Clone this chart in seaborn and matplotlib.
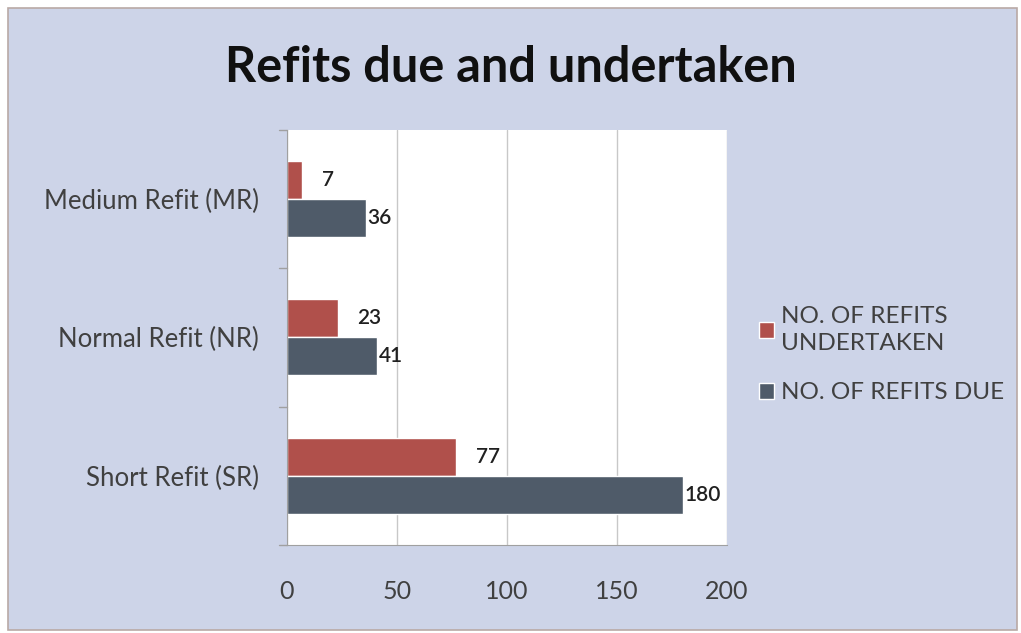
import pandas as pd
import matplotlib.pyplot as plt
import seaborn as sns
from matplotlib.patches import Rectangle

# datos
categorias = ['Medium Refit (MR)', 'Normal Refit (NR)', 'Short Refit (SR)']
realizados = [7, 23, 77]
debidos = [36, 41, 180]
series = ['NO. OF REFITS\nUNDERTAKEN', 'NO. OF REFITS DUE']
colores = ['#b0504b', '#4f5b69']
ticks_x = [0, 50, 100, 150, 200]

df = pd.DataFrame({
    'categoria': categorias * 2,
    'valor': realizados + debidos,
    'serie': [series[0]] * 3 + [series[1]] * 3,
})

sns.set_style('white')
plt.rcParams['font.family'] = ['Lato', 'DejaVu Sans']

fondo = '#cdd4e8'
fig = plt.figure(figsize=(10.21, 6.33), dpi=100)
fig.patch.set_facecolor('white')
fig.patches.append(Rectangle((0.008, 0.005), 0.988, 0.982, transform=fig.transFigure,
                             facecolor=fondo, edgecolor='#b9a9a5', linewidth=1.2, zorder=-1))

ax = fig.add_axes([0.281, 0.139, 0.431, 0.656])
sns.barplot(data=df, y='categoria', x='valor', hue='serie', palette=colores,
            orient='h', width=0.55, saturation=1, ax=ax)

# etiquetas de valor
ax.bar_label(ax.containers[0], padding=14, fontsize=15, color='#202020', fontweight='semibold')
ax.bar_label(ax.containers[1], padding=1, fontsize=15, color='#202020', fontweight='semibold')

ax.set_xlim(0, 200)
ax.set_ylim(2.5, -0.5)
ax.set_xticks(ticks_x)
ax.set_xticklabels([str(t) for t in ticks_x], fontsize=18, color='#404040')
ax.tick_params(axis='x', length=5, color='#a0a0a0', pad=20)
ax.set_yticks([0, 1, 2])
ax.set_yticklabels(categorias, fontsize=18.5, color='#404040')
ax.tick_params(axis='y', length=0, pad=20)
# marcas entre categorias estilo Excel
for yb in [-0.5, 0.5, 1.5, 2.5]:
    ax.plot([-3.5, 0], [yb, yb], color='#a0a0a0', lw=1, clip_on=False)
ax.xaxis.grid(True, color='#c8c8c8', lw=1)
ax.set_axisbelow(True)
for s in ['top', 'right']:
    ax.spines[s].set_visible(False)
ax.spines['left'].set_color('#a0a0a0')
ax.spines['bottom'].set_color('#a0a0a0')
ax.set_xlabel('')
ax.set_ylabel('')

handles, labels = ax.get_legend_handles_labels()
ax.legend_.remove()
leg = fig.legend(handles, labels, loc='center left', bbox_to_anchor=(0.722, 0.44),
                 frameon=False, fontsize=17.5, handlelength=0.6, handleheight=0.6,
                 handletextpad=0.3, labelspacing=1.15, labelcolor='#404040')
for t in leg.get_texts():
    t.set_linespacing(1.4)

fig.text(0.5, 0.893, 'Refits due and undertaken', ha='center', va='center',
         fontsize=35, fontweight='bold', color='#101010')

fig.savefig('out.png', dpi=100, facecolor=fig.get_facecolor())
